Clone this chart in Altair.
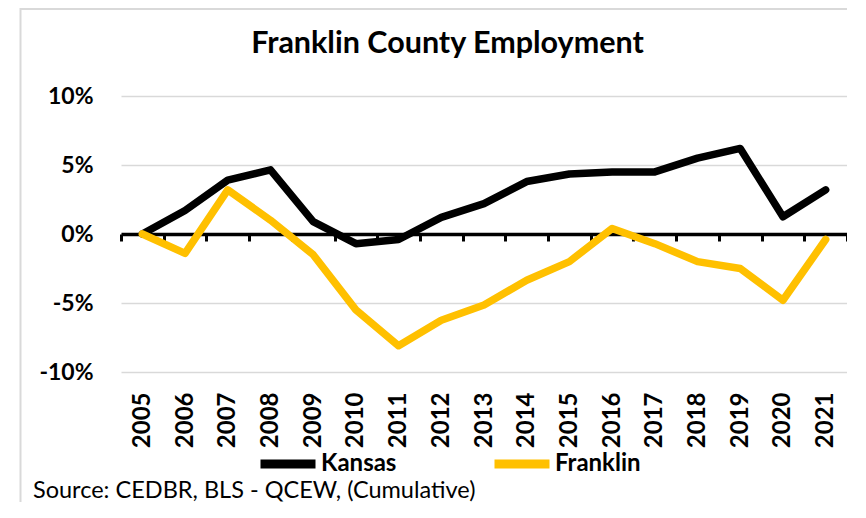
import altair as alt
import pandas as pd

years = [str(y) for y in range(2005, 2022)]
kansas = [0, 1.7, 3.9, 4.65, 0.9, -0.7, -0.4, 1.2, 2.2, 3.8, 4.35, 4.5, 4.5, 5.5, 6.2, 1.25, 3.2]
franklin = [0, -1.4, 3.2, 1.0, -1.5, -5.5, -8.1, -6.25, -5.15, -3.35, -2.0, 0.4, -0.7, -2.0, -2.5, -4.8, -0.4]
series = ["Kansas", "Franklin"]
colors = ["#000000", "#FFC000"]
y_ticks = [-10, -5, 0, 5, 10]
title_text = "Franklin County Employment"
source_text = "Source: CEDBR, BLS - QCEW, (Cumulative)"

df = pd.DataFrame(
    {
        "Year": years * 2,
        "Value": kansas + franklin,
        "Series": ["Kansas"] * len(years) + ["Franklin"] * len(years),
    }
)

W, H = 726, 276

lines = alt.Chart(df).mark_line(strokeWidth=7.5, strokeCap="round", strokeJoin="round").encode(
    x=alt.X(
        "Year:N",
        sort=years,
        bandPosition=0.5,
        scale=alt.Scale(type="band", paddingInner=0, paddingOuter=0),
        axis=alt.Axis(
            title=None,
            offset=-H / 2,
            domainColor="#000000",
            domainWidth=3.5,
            ticks=True,
            tickBand="extent",
            tickColor="#000000",
            tickWidth=3,
            tickSize=7,
            labelAngle=-90,
            labelPadding=151,
            labelFont="Lato",
            labelFontWeight="bold",
            labelFontSize=24,
            labelColor="#000000",
            grid=False,
        ),
    ),
    y=alt.Y(
        "Value:Q",
        scale=alt.Scale(domain=[-10, 10], nice=False),
        axis=alt.Axis(
            title=None,
            values=y_ticks,
            labelExpr="datum.value + '%'",
            domain=False,
            ticks=False,
            labelPadding=28,
            labelFont="Lato",
            labelFontWeight="bold",
            labelFontSize=23,
            labelColor="#000000",
            grid=True,
            gridColor="#d9d9d9",
            gridWidth=1.5,
        ),
    ),
    color=alt.Color(
        "Series:N",
        sort=series,
        scale=alt.Scale(domain=series, range=colors),
        legend=alt.Legend(
            title=None,
            orient="none",
            direction="horizontal",
            legendX=135,
            legendY=336,
            symbolType="stroke",
            symbolSize=3025,
            symbolStrokeWidth=9,
            labelFont="Lato",
            labelFontWeight="bold",
            labelFontSize=24,
            labelColor="#000000",
            labelOffset=1,
            columnPadding=79,
            padding=0,
        ),
    ),
    detail="Series:N",
)

title = alt.Chart(pd.DataFrame({"t": [title_text]})).mark_text(
    align="center", baseline="alphabetic", font="Lato", fontSize=30.5, fontWeight="bold", color="#000000"
).encode(text="t:N", x=alt.value(326.5), y=alt.value(-43))

source = alt.Chart(pd.DataFrame({"t": [source_text]})).mark_text(
    align="left", baseline="alphabetic", font="Lato", fontSize=23.5, color="#000000"
).encode(text="t:N", x=alt.value(-88), y=alt.value(402))

frame_left = alt.Chart(pd.DataFrame({"a": [0]})).mark_rule(color="#d9d9d9", strokeWidth=2).encode(
    x=alt.value(-100.5), y=alt.value(-88), y2=alt.value(H + 130)
)
frame_top = alt.Chart(pd.DataFrame({"a": [0]})).mark_rule(color="#d9d9d9", strokeWidth=2).encode(
    x=alt.value(-100.5), x2=alt.value(W), y=alt.value(-87)
)

chart = (
    alt.layer(frame_left, frame_top, lines, title, source)
    .properties(
        width=W,
        height=H,
        autosize=alt.AutoSizeParams(type="none"),
        padding={"left": 113, "top": 88, "right": 0, "bottom": 130},
        background="#ffffff",
    )
    .configure_view(stroke=None)
)

chart.save("out.html", embed_options={"renderer": "svg", "actions": False})
